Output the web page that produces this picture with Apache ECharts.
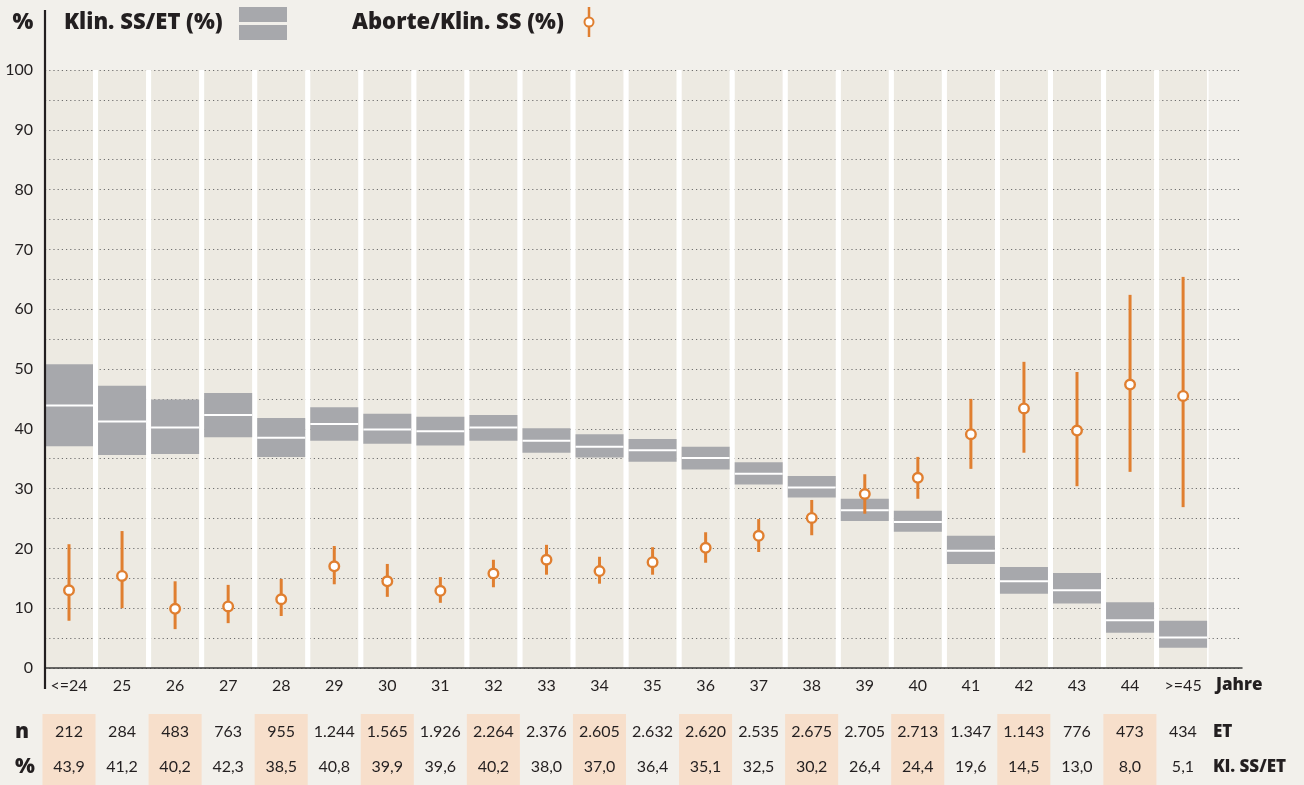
<!DOCTYPE html>
<html>
<head>
<meta charset="utf-8">
<script src="https://cdn.jsdelivr.net/npm/echarts@6/dist/echarts.min.js"></script>
<style>
  html, body { margin: 0; padding: 0; background: #f2f0eb; }
  #chart { width: 1304px; height: 785px; }
</style>
</head>
<body>
<div id="chart"></div>
<script>
// Altersgruppen
const categories = ["<=24", "25", "26", "27", "28", "29", "30", "31", "32", "33", "34",
  "35", "36", "37", "38", "39", "40", "41", "42", "43", "44", ">=45"];
// Anzahl Embryotransfers
const etCount = [212, 284, 483, 763, 955, 1244, 1565, 1926, 2264, 2376, 2605,
  2632, 2620, 2535, 2675, 2705, 2713, 1347, 1143, 776, 473, 434];
// Klin. SS/ET (%) mit Konfidenzintervall
const ssRate = [43.9, 41.2, 40.2, 42.3, 38.5, 40.8, 39.9, 39.6, 40.2, 38.0, 37.0,
  36.4, 35.1, 32.5, 30.2, 26.4, 24.4, 19.6, 14.5, 13.0, 8.0, 5.1];
const ssLow = [37.1, 35.6, 35.8, 38.6, 35.3, 38.0, 37.5, 37.2, 38.0, 36.0, 35.2,
  34.5, 33.2, 30.7, 28.5, 24.6, 22.8, 17.4, 12.4, 10.8, 5.9, 3.4];
const ssHigh = [50.8, 47.2, 44.9, 46.0, 41.8, 43.6, 42.5, 42.0, 42.3, 40.1, 39.1,
  38.3, 37.0, 34.4, 32.1, 28.3, 26.3, 22.1, 16.9, 15.9, 11.0, 7.9];
// Aborte/Klin. SS (%) mit Konfidenzintervall
const abortRate = [13.0, 15.4, 9.9, 10.3, 11.5, 17.0, 14.5, 12.9, 15.8, 18.1, 16.2,
  17.7, 20.1, 22.1, 25.1, 29.1, 31.8, 39.1, 43.4, 39.7, 47.4, 45.5];
const abortLow = [7.9, 10.0, 6.5, 7.5, 8.7, 14.0, 11.9, 10.9, 13.5, 15.6, 14.1,
  15.6, 17.6, 19.4, 22.2, 25.8, 28.3, 33.3, 36.0, 30.4, 32.8, 26.9];
const abortHigh = [20.7, 22.9, 14.5, 13.9, 14.9, 20.4, 17.4, 15.2, 18.1, 20.6, 18.6,
  20.2, 22.7, 24.9, 28.1, 32.4, 35.3, 45.0, 51.2, 49.5, 62.4, 65.4];
const yTicks = [0, 10, 20, 30, 40, 50, 60, 70, 80, 90, 100];

const FONT = "Lato, 'Open Sans', sans-serif";
const BOLD = "'Open Sans', Lato, sans-serif";
const INK = "#231f20";
const ORANGE = "#e07f30";
const GREY = "#a7a8ac";
const HALF = 24 / 53.05; // halbe Saeulenbreite in Achseneinheiten

function fmtN(v) {
  return String(v).replace(/\B(?=(\d{3})+(?!\d))/g, ".");
}
function fmtP(v) {
  return v.toFixed(1).replace(".", ",");
}

const idx = categories.map((c, i) => i);

const chart = echarts.init(document.getElementById("chart"));
chart.setOption({
  backgroundColor: "#f2f0eb",
  animation: false,
  textStyle: { fontFamily: FONT, color: INK },
  grid: [
    { left: 45, right: 62, top: 70, bottom: 117 },
    { left: 45, right: 92, top: 714, height: 76 }
  ],
  xAxis: [
    {
      type: "value", gridIndex: 0, z: 5,
      min: -HALF, max: 22.5625 - HALF,
      axisLine: { show: true, lineStyle: { color: "#3a3a3a", width: 1.5 } },
      axisTick: { show: false },
      splitLine: { show: false },
      axisLabel: {
        customValues: idx,
        formatter: v => categories[Math.round(v)],
        margin: 10, fontSize: 16, color: INK, fontFamily: FONT
      }
    },
    {
      type: "value", gridIndex: 1,
      min: -HALF, max: 22 - HALF, show: false
    }
  ],
  yAxis: [
    {
      type: "value", gridIndex: 0,
      min: 0, max: 100, interval: 5,
      axisLine: { show: false },
      axisTick: { show: false },
      axisLabel: {
        customValues: yTicks,
        margin: 12, fontSize: 16, color: INK, fontFamily: FONT
      },
      splitLine: { show: true, lineStyle: { color: "#6f6f6f", width: 1, type: [1.2, 3] } }
    },
    {
      type: "category", gridIndex: 1, inverse: true,
      data: ["n", "%"],
      axisLine: { show: false }, axisTick: { show: false },
      axisLabel: { margin: 30, align: "left", fontSize: 21, fontWeight: 800, color: INK, fontFamily: BOLD }
    },
    {
      type: "category", gridIndex: 1, inverse: true, position: "right",
      data: ["ET", "Kl. SS/ET"],
      axisLine: { show: false }, axisTick: { show: false },
      axisLabel: { margin: 1, fontSize: 17, fontWeight: 800, color: INK, fontFamily: BOLD }
    }
  ],
  graphic: [
    { type: "line", shape: { x1: 45, y1: 10, x2: 45, y2: 689 }, style: { stroke: INK, lineWidth: 2.2 }, z: 10 },
    { type: "text", x: 23, y: 23, style: { text: "%", align: "center", verticalAlign: "middle", font: "800 22px " + BOLD, fill: INK } },
    { type: "text", x: 64, y: 23, style: { text: "Klin. SS/ET (%)", verticalAlign: "middle", font: "800 22px " + BOLD, fill: INK } },
    { type: "rect", shape: { x: 239, y: 7, width: 48, height: 15 }, style: { fill: GREY } },
    { type: "rect", shape: { x: 239, y: 25, width: 48, height: 15 }, style: { fill: GREY } },
    { type: "text", x: 352, y: 23, style: { text: "Aborte/Klin. SS (%)", verticalAlign: "middle", font: "800 22px " + BOLD, fill: INK } },
    { type: "line", shape: { x1: 589, y1: 7, x2: 589, y2: 37 }, style: { stroke: ORANGE, lineWidth: 2.5 } },
    { type: "circle", shape: { cx: 589, cy: 22, r: 4.5 }, style: { fill: "#fff", stroke: ORANGE, lineWidth: 2 } },
    { type: "text", x: 1216, y: 685, style: { text: "Jahre", verticalAlign: "middle", font: "800 17px " + BOLD, fill: INK } }
  ],
  series: [
    {
      // Saeulenhintergrund
      type: "custom", name: "bg", xAxisIndex: 0, yAxisIndex: 0, z: -1, silent: true,
      data: idx,
      renderItem: (params, api) => {
        const i = api.value(0);
        const p0 = api.coord([i - HALF, 100]);
        const p1 = api.coord([i + HALF, 0]);
        return { type: "rect", shape: { x: p0[0], y: p0[1], width: p1[0] - p0[0], height: p1[1] - p0[1] }, style: { fill: "#edeae2" } };
      }
    },
    {
      // weisse Trennstreifen
      type: "custom", name: "sep", xAxisIndex: 0, yAxisIndex: 0, z: 1, silent: true,
      data: idx,
      renderItem: (params, api) => {
        const i = api.value(0);
        const p0 = api.coord([i + HALF, 100]);
        const p1 = api.coord([i + 1 - HALF, 0]);
        const w = i === categories.length - 1 ? 1.5 : p1[0] - p0[0];
        return { type: "rect", shape: { x: p0[0], y: p0[1], width: w, height: p1[1] - p0[1] }, style: { fill: "#ffffff" } };
      }
    },
    {
      type: "custom", name: "Klin. SS/ET (%)", xAxisIndex: 0, yAxisIndex: 0, z: 3,
      data: idx.map(i => [i, ssLow[i], ssHigh[i], ssRate[i]]),
      renderItem: (params, api) => {
        const i = api.value(0);
        const top = api.coord([i - HALF, api.value(2)]);
        const bot = api.coord([i + HALF, api.value(1)]);
        const mid = api.coord([i, api.value(3)]);
        return {
          type: "group",
          children: [
            { type: "rect", shape: { x: top[0], y: top[1], width: bot[0] - top[0], height: bot[1] - top[1] }, style: { fill: GREY } },
            { type: "line", shape: { x1: top[0], y1: mid[1], x2: bot[0], y2: mid[1] }, style: { stroke: "#ffffff", lineWidth: 2 } }
          ]
        };
      }
    },
    {
      type: "custom", name: "Aborte/Klin. SS (%)", xAxisIndex: 0, yAxisIndex: 0, z: 4,
      data: idx.map(i => [i, abortLow[i], abortHigh[i], abortRate[i]]),
      renderItem: (params, api) => {
        const i = api.value(0);
        const lo = api.coord([i, api.value(1)]);
        const hi = api.coord([i, api.value(2)]);
        const m = api.coord([i, api.value(3)]);
        return {
          type: "group",
          children: [
            { type: "line", shape: { x1: lo[0], y1: lo[1], x2: hi[0], y2: hi[1] }, style: { stroke: ORANGE, lineWidth: 3 } },
            { type: "circle", shape: { cx: m[0], cy: m[1], r: 4.8 }, style: { fill: "#ffffff", stroke: ORANGE, lineWidth: 2.4 } }
          ]
        };
      }
    },
    {
      // Tabelle: Schattierung
      type: "custom", name: "shade", xAxisIndex: 1, yAxisIndex: 1, z: 1, silent: true,
      data: idx.filter(i => i % 2 === 0).map(i => [i, 0]),
      renderItem: (params, api) => {
        const i = api.value(0);
        const a = api.coord([i - 0.5, 0]);
        const b = api.coord([i + 0.5, 0]);
        const cs = params.coordSys;
        return { type: "rect", shape: { x: a[0], y: cs.y, width: b[0] - a[0], height: cs.height }, style: { fill: "#f7dfcb" } };
      }
    },
    {
      // Tabelle: Werte
      type: "custom", name: "table", xAxisIndex: 1, yAxisIndex: 1, z: 2, silent: true,
      data: idx.map(i => [i, 0]).concat(idx.map(i => [i, 1])),
      renderItem: (params, api) => {
        const p = api.coord([api.value(0), api.value(1)]);
        const k = params.dataIndex;
        const item = k < categories.length
          ? fmtN(etCount[k])
          : fmtP(ssRate[k - categories.length]);
        return {
          type: "text", x: p[0], y: p[1],
          style: { text: item, align: "center", verticalAlign: "middle", fontSize: 16, fontFamily: FONT, fill: INK }
        };
      }
    }
  ]
});
</script>
</body>
</html>
